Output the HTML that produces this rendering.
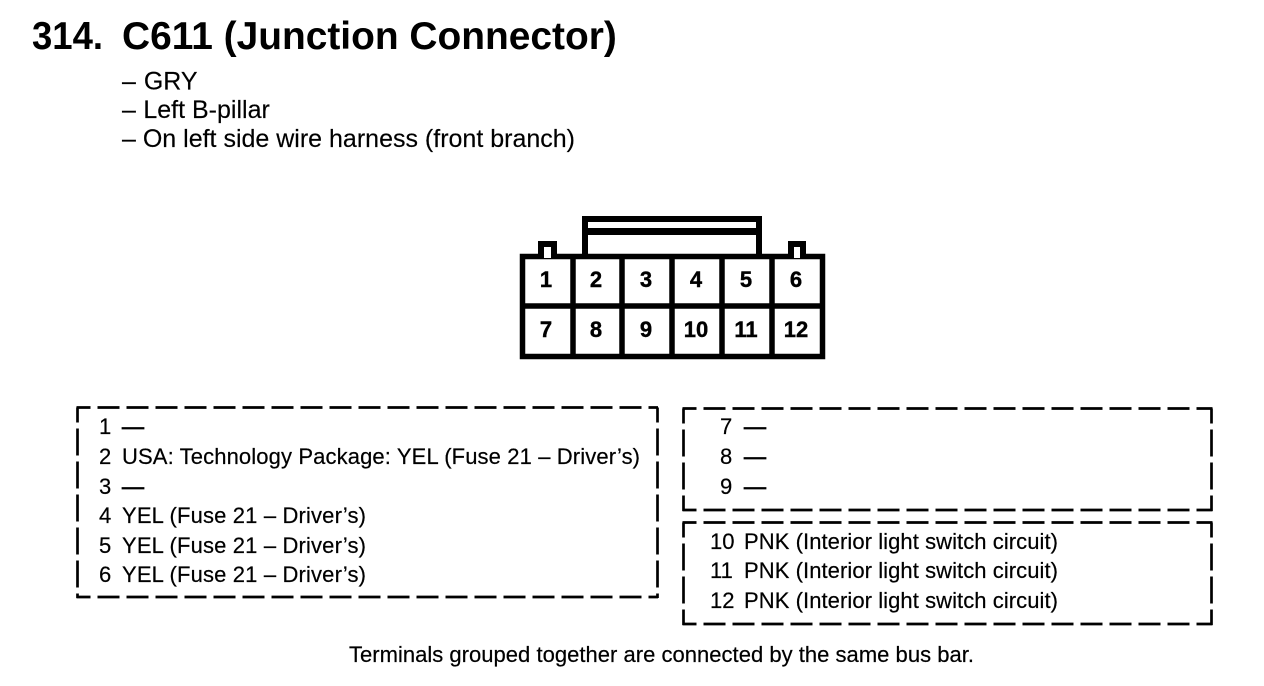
<!DOCTYPE html>
<html><head><meta charset="utf-8"><style>
html,body{margin:0;padding:0;background:#fff;width:1264px;height:686px;overflow:hidden}
svg{display:block}
text{font-family:"Liberation Sans",sans-serif;fill:#000}
.t{font-size:22px;stroke:#000;stroke-width:.2px}
.h{font-size:25px;stroke:#000;stroke-width:.15px}
.ti{font-size:38.9px;font-weight:bold}
.n{font-size:22px;font-weight:bold;text-anchor:middle;stroke:#000;stroke-width:.4px}
.m{stroke:#000;stroke-width:.8px}
.dh{fill:none;stroke:#000;stroke-width:2.700;stroke-dasharray:22 7;stroke-dashoffset:8}
.dv{fill:none;stroke:#000;stroke-width:2.700;stroke-dasharray:27 6;stroke-dashoffset:12}
</style></head><body>
<svg width="1264" height="686" viewBox="0 0 1264 686" xmlns="http://www.w3.org/2000/svg">
<text class="ti" x="32" y="49" textLength="71" lengthAdjust="spacingAndGlyphs">314.</text>
<text class="ti" x="122" y="49">C611 (Junction Connector)</text>
<text class="h" x="122" y="89.500">– <tspan dx="1">GRY</tspan></text>
<text class="h" x="122" y="118">– <tspan dx="0.500">Left B-pillar</tspan></text>
<text class="h" x="122" y="147">– On left side wire harness (front branch)</text>

<g fill="none" stroke="#000" stroke-linejoin="miter">
<path stroke-width="6" d="M585 254V219H759V254"/>
<path stroke-width="7" d="M585 231.500H759"/>
<path stroke-width="6" d="M541 256V244H554V256M791 256V244H803V256"/>
<rect x="522.500" y="256.500" width="300" height="100" stroke-width="5.500"/>
<path stroke-width="5.500" d="M573 256V357M622 256V357M672 256V357M722 256V357M772 256V357M522 306H823"/>
</g>
<rect x="544" y="247" width="7" height="11" fill="#fff"/>
<rect x="794" y="247" width="6" height="11" fill="#fff"/>
<text class="n" x="546" y="287">1</text><text class="n" x="596" y="287">2</text><text class="n" x="646" y="287">3</text><text class="n" x="696" y="287">4</text><text class="n" x="746" y="287">5</text><text class="n" x="796" y="287">6</text>
<text class="n" x="546" y="337">7</text><text class="n" x="596" y="337">8</text><text class="n" x="646" y="337">9</text><text class="n" x="696" y="337">10</text><text class="n" x="746" y="337">11</text><text class="n" x="796" y="337">12</text>

<path class="dh" d="M76.500 407.500H658M76.500 597H658"/>
<path class="dv" d="M77.500 407.500V598M657.500 407.500V598"/>
<path class="dh" d="M682.500 408.500H1212.500M682.500 510H1212.500M682.500 522.500H1212.500M682.500 624H1212.500"/>
<path class="dv" d="M683.500 408.500V511M1211.500 408.500V511M683.500 522.500V625M1211.500 522.500V625"/>

<g class="t">
<text x="99" y="434">1</text><text class="m" x="122" y="434">—</text>
<text x="99" y="464">2</text><text x="122" y="464" textLength="518">USA: Technology Package: YEL (Fuse 21 – Driver’s)</text>
<text x="99" y="494">3</text><text class="m" x="122" y="494">—</text>
<text x="99" y="523">4</text><text x="122" y="523" textLength="244">YEL (Fuse 21 – Driver’s)</text>
<text x="99" y="553">5</text><text x="122" y="553" textLength="244">YEL (Fuse 21 – Driver’s)</text>
<text x="99" y="582">6</text><text x="122" y="582" textLength="244">YEL (Fuse 21 – Driver’s)</text>

<text x="720" y="434">7</text><text class="m" x="744" y="434">—</text>
<text x="720" y="464">8</text><text class="m" x="744" y="464">—</text>
<text x="720" y="494">9</text><text class="m" x="744" y="494">—</text>

<text x="710" y="549">10</text><text x="744" y="549" textLength="314">PNK (Interior light switch circuit)</text>
<text x="710" y="578">11</text><text x="744" y="578" textLength="314">PNK (Interior light switch circuit)</text>
<text x="710" y="608">12</text><text x="744" y="608" textLength="314">PNK (Interior light switch circuit)</text>

<text x="349" y="662" textLength="625">Terminals grouped together are connected by the same bus bar.</text>
</g>
</svg>
</body></html>
